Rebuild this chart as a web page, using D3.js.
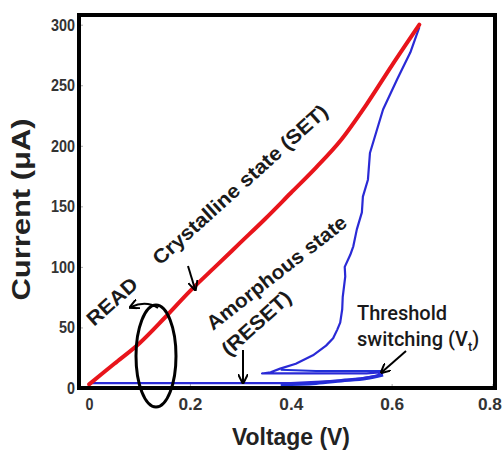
<!DOCTYPE html>
<html>
<head>
<meta charset="utf-8">
<script src="https://cdn.jsdelivr.net/npm/d3@7"></script>
<style>
  body { margin: 0; background: #fff; }
  text { font-family: "Liberation Sans", Arial, sans-serif; }
</style>
</head>
<body>
<div id="graph"></div>
<script>
// crystalline (SET) sweep, red
const setV = [0.0, 0.05, 0.1, 0.15, 0.2, 0.25, 0.3, 0.35, 0.4, 0.45, 0.5, 0.55, 0.6, 0.655];
const setI = [3, 20, 37, 58, 80, 100, 120, 140, 161, 182, 205, 234, 266, 300];

// amorphous (RESET) sweep, blue: low branch, threshold, snap back, rise
const resetV = [0.0, 0.1, 0.2, 0.3, 0.4, 0.45, 0.5, 0.54, 0.57, 0.583, 0.55, 0.45, 0.343,
  0.36, 0.379, 0.41, 0.444, 0.47, 0.484, 0.492, 0.498, 0.502, 0.503, 0.508, 0.507, 0.518,
  0.524, 0.531, 0.541, 0.543, 0.553, 0.557, 0.57, 0.583, 0.611, 0.637, 0.655];
const resetI = [4, 4, 4, 4, 4, 5, 6, 8, 10, 13, 12, 12, 12,
  13, 16, 20, 27, 35, 41, 48, 54, 65, 75, 92, 100, 110,
  117, 131, 145, 158, 172, 194, 212, 230, 255, 277, 298];
// second pass of the low branch (thick band near threshold)
const lowV = [0.38, 0.45, 0.5, 0.55, 0.583];
const lowI = [3, 4, 6, 8, 11];
const lowV2 = [0.38, 0.45, 0.52, 0.583];
const lowI2 = [15, 14, 14, 14];

const xTicks = [0, 0.2, 0.4, 0.6, 0.8];
const yTicks = [0, 50, 100, 150, 200, 250, 300];

const width = 503, height = 450;
const x = d3.scaleLinear().domain([-0.02, 0.805]).range([79, 495]);
const y = d3.scaleLinear().domain([0, 308]).range([388, 15]);

const svg = d3.select("#graph").append("svg")
  .attr("width", width).attr("height", height);

svg.append("defs").append("marker")
  .attr("id", "head")
  .attr("viewBox", "0 0 10 10")
  .attr("refX", 8).attr("refY", 5)
  .attr("markerWidth", 5).attr("markerHeight", 5)
  .attr("orient", "auto")
  .append("path")
  .attr("d", "M0,0 L10,5 L0,10")
  .attr("fill", "none")
  .attr("stroke", "#000")
  .attr("stroke-width", 2);

// axes with small inward ticks
const xAxis = svg.append("g")
  .attr("transform", `translate(0,${y(0)})`)
  .call(d3.axisBottom(x).tickValues(xTicks).tickSize(-4).tickPadding(10)
    .tickFormat(d => d === 0 ? "0" : d3.format(".1f")(d)));
const yAxis = svg.append("g")
  .attr("transform", `translate(${x(-0.02)},0)`)
  .call(d3.axisLeft(y).tickValues(yTicks).tickSize(-4).tickPadding(4));
[xAxis, yAxis].forEach(a => {
  a.select(".domain").remove();
  a.selectAll(".tick line").attr("stroke", "#aaa");
  a.selectAll(".tick text")
    .attr("fill", "#333")
    .attr("textLength", function() { return this.textContent.length * 8; })
    .attr("lengthAdjust", "spacingAndGlyphs")
    .style("font-size", "17px")
    .style("font-weight", "bold");
});
xAxis.selectAll(".tick text").filter(d => d === 0.8).attr("dx", -3);

const line = d3.line().x(d => x(d[0])).y(d => y(d[1]));
const smooth = d3.line().x(d => x(d[0])).y(d => y(d[1])).curve(d3.curveMonotoneX);

svg.append("path")
  .datum(lowV.map((v, i) => [v, lowI[i]]))
  .attr("d", smooth)
  .attr("fill", "none").attr("stroke", "#2030d8").attr("stroke-width", 3.5);
svg.append("path")
  .datum(lowV2.map((v, i) => [v, lowI2[i]]))
  .attr("d", line)
  .attr("fill", "none").attr("stroke", "#2030d8").attr("stroke-width", 2);
svg.append("path")
  .datum(resetV.map((v, i) => [v, resetI[i]]))
  .attr("d", line)
  .attr("fill", "none").attr("stroke", "#2a2ad6").attr("stroke-width", 2.2)
  .attr("stroke-linejoin", "round");
svg.append("path")
  .datum(setV.map((v, i) => [v, setI[i]]))
  .attr("d", smooth)
  .attr("fill", "none").attr("stroke", "#e8141b").attr("stroke-width", 4)
  .attr("stroke-linecap", "round");

// frame
svg.append("rect")
  .attr("x", x(-0.02)).attr("y", y(308))
  .attr("width", x(0.805) - x(-0.02)).attr("height", y(0) - y(308))
  .attr("fill", "none").attr("stroke", "#000").attr("stroke-width", 4);

// axis titles
svg.append("text")
  .attr("transform", `translate(30,${(y(0) + y(308)) / 2 + 8}) rotate(-90)`)
  .attr("text-anchor", "middle")
  .attr("textLength", 182).attr("lengthAdjust", "spacingAndGlyphs")
  .style("font-size", "25px").style("font-weight", "bold").attr("fill", "#222")
  .text("Current (μA)");
svg.append("text")
  .attr("x", 291).attr("y", 445)
  .attr("text-anchor", "middle")
  .attr("textLength", 118).attr("lengthAdjust", "spacingAndGlyphs")
  .style("font-size", "24px").style("font-weight", "bold").attr("fill", "#222")
  .text("Voltage (V)");

// annotations
const notes = [
  { t: "Crystalline state (SET)", x: 160, y: 266, r: -42, len: 228 },
  { t: "Amorphous state", x: 213, y: 331, r: -38, len: 172 },
  { t: "(RESET)", x: 229, y: 357, r: -42, len: 86 },
  { t: "READ", x: 94, y: 327, r: -42, len: 61 }
];
svg.selectAll("text.note").data(notes).join("text")
  .attr("class", "note")
  .attr("transform", d => `translate(${d.x},${d.y}) rotate(${d.r})`)
  .attr("textLength", d => d.len).attr("lengthAdjust", "spacingAndGlyphs")
  .style("font-size", "20px").style("font-weight", "bold").attr("fill", "#1a1a1a")
  .text(d => d.t);

const th = svg.append("text")
  .style("font-family", "Roboto, 'Liberation Sans', sans-serif")
  .style("font-size", "20px").style("font-weight", 500).attr("fill", "#1a1a1a");
th.append("tspan").attr("x", 357).attr("y", 320).text("Threshold");
const sw = svg.append("text")
  .style("font-family", "Roboto, 'Liberation Sans', sans-serif")
  .style("font-size", "20px").style("font-weight", 500).attr("fill", "#1a1a1a")
  .attr("x", 357).attr("y", 346);
sw.append("tspan").text("switching (V");
sw.append("tspan").attr("dy", 5).style("font-size", "13px").text("t");
sw.append("tspan").attr("dy", -5).text(")");

const arrows = [
  "M188,266 L195,289",
  "M243,350 L243,382",
  "M406,351 L382,372",
  "M158,308 Q146,300 131,307"
];
svg.selectAll("path.arrow").data(arrows).join("path")
  .attr("class", "arrow")
  .attr("d", d => d)
  .attr("fill", "none").attr("stroke", "#000").attr("stroke-width", 2)
  .attr("marker-end", "url(#head)");

// READ window ellipse
svg.append("ellipse")
  .attr("cx", 156).attr("cy", 356).attr("rx", 20).attr("ry", 51)
  .attr("fill", "none").attr("stroke", "#000").attr("stroke-width", 3);
</script>
</body>
</html>
